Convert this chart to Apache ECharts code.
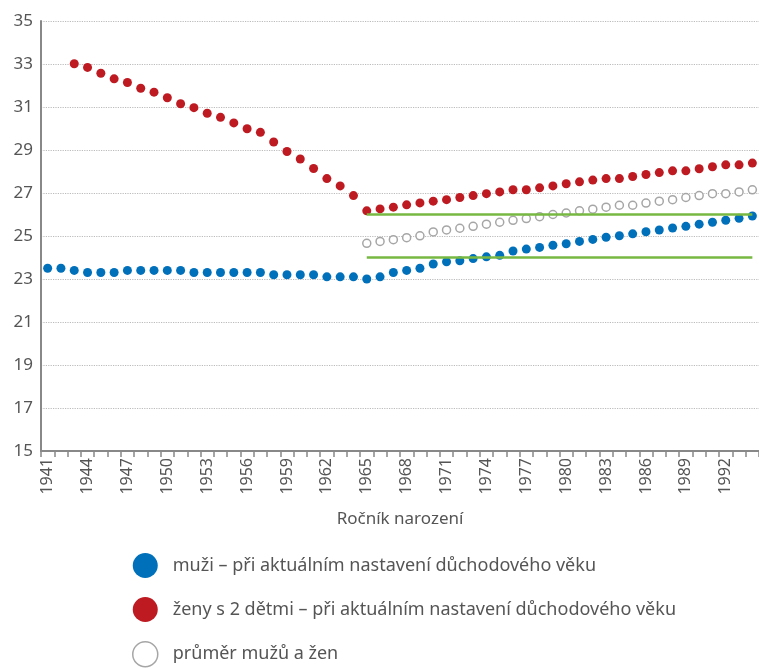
<!DOCTYPE html>
<html>
<head>
<meta charset="utf-8">
<script src="https://cdn.jsdelivr.net/npm/echarts@6/dist/echarts.min.js"></script>
<style>
  html, body { margin: 0; padding: 0; background: #fff; }
  #chart { width: 759px; height: 668px; }
</style>
</head>
<body>
<div id="chart"></div>
<script>
// ročníky narození
var years = ['1941','1942','1943','1944','1945','1946','1947','1948','1949','1950',
             '1951','1952','1953','1954','1955','1956','1957','1958','1959','1960',
             '1961','1962','1963','1964','1965','1966','1967','1968','1969','1970',
             '1971','1972','1973','1974','1975','1976','1977','1978','1979','1980',
             '1981','1982','1983','1984','1985','1986','1987','1988','1989','1990',
             '1991','1992','1993','1994'];

var muzi = [23.5, 23.5, 23.4, 23.3, 23.3, 23.3, 23.4, 23.4, 23.4, 23.4,
            23.4, 23.3, 23.3, 23.3, 23.3, 23.3, 23.3, 23.2, 23.2, 23.2,
            23.2, 23.1, 23.1, 23.1, 23.0, 23.1, 23.3, 23.4, 23.5, 23.7,
            23.8, 23.85, 23.95, 24.03, 24.1, 24.3, 24.39, 24.47, 24.57, 24.64,
            24.75, 24.84, 24.94, 25.01, 25.1, 25.2, 25.28, 25.37, 25.45, 25.55,
            25.64, 25.73, 25.82, 25.93];

var zeny = [null, null, 33.01, 32.84, 32.57, 32.31, 32.14, 31.87, 31.69, 31.43,
            31.15, 30.97, 30.71, 30.52, 30.26, 29.99, 29.82, 29.37, 28.93, 28.58,
            28.14, 27.67, 27.33, 26.88, 26.17, 26.26, 26.34, 26.45, 26.54, 26.62,
            26.69, 26.79, 26.88, 26.97, 27.05, 27.15, 27.15, 27.24, 27.33, 27.43,
            27.52, 27.6, 27.67, 27.67, 27.77, 27.86, 27.95, 28.03, 28.03, 28.13,
            28.22, 28.31, 28.31, 28.39];

var prumer = [null, null, null, null, null, null, null, null, null, null,
              null, null, null, null, null, null, null, null, null, null,
              null, null, null, null, 24.66, 24.75, 24.83, 24.92, 25.01, 25.19,
              25.28, 25.36, 25.45, 25.55, 25.64, 25.73, 25.81, 25.9, 26.0, 26.07,
              26.17, 26.25, 26.34, 26.43, 26.43, 26.53, 26.62, 26.69, 26.79, 26.88,
              26.97, 26.97, 27.05, 27.15];

// zelené hranice od ročníku 1965
var hranice = [24, 26];
var hraniceOd = '1965';
var hraniceDo = '1994';

var names = ['muži – při aktuálním nastavení důchodového věku',
             'ženy s 2 dětmi – při aktuálním nastavení důchodového věku',
             'průměr mužů a žen'];

var textColor = '#555';
var font = 'Noto Sans';

var chart = echarts.init(document.getElementById('chart'));

var markData = [];
for (var i = 0; i < hranice.length; i++) {
    markData.push([{coord: [hraniceOd, hranice[i]]}, {coord: [hraniceDo, hranice[i]]}]);
}

var option = {
    animation: false,
    textStyle: {fontFamily: font, color: textColor},
    grid: {left: 41, right: -6, top: 21, bottom: 217, containLabel: false},
    legend: {
        orient: 'vertical',
        left: 132,
        top: 553,
        height: 160,
        padding: 0,
        itemWidth: 25,
        itemHeight: 25,
        itemGap: 19,
        icon: 'circle',
        textStyle: {fontFamily: font, fontSize: 18, color: textColor, padding: [0, 0, 0, 10]},
        data: [
            {name: names[0], itemStyle: {color: '#0070bb', borderWidth: 0}},
            {name: names[1], itemStyle: {color: '#be1a22', borderWidth: 0}},
            {name: names[2], itemStyle: {color: '#fff', borderColor: '#a6a6a6', borderWidth: 1.5}}
        ]
    },
    xAxis: {
        type: 'category',
        data: years,
        boundaryGap: true,
        name: 'Ročník narození',
        nameLocation: 'middle',
        nameGap: 60,
        nameTextStyle: {fontFamily: font, fontSize: 17, color: textColor},
        axisLine: {lineStyle: {color: '#888', width: 2}},
        axisTick: {show: true, interval: 0, length: 6, lineStyle: {color: '#888', width: 1.5}},
        axisLabel: {interval: 2, rotate: 90, margin: 7, fontFamily: font, fontSize: 16, color: textColor},
        splitLine: {show: false}
    },
    yAxis: {
        type: 'value',
        min: 15,
        max: 35,
        interval: 2,
        axisLine: {show: true, lineStyle: {color: '#888', width: 2}},
        axisTick: {show: false},
        axisLabel: {margin: 8, fontFamily: font, fontSize: 17, color: textColor},
        splitLine: {lineStyle: {color: '#bbb', type: 'dotted', width: 1.2}}
    },
    series: [
        {
            name: names[0],
            type: 'scatter',
            data: muzi,
            symbol: 'circle',
            symbolSize: 9,
            itemStyle: {color: '#0070bb', opacity: 1}
        },
        {
            name: names[1],
            type: 'scatter',
            data: zeny,
            symbol: 'circle',
            symbolSize: 9,
            itemStyle: {color: '#be1a22', opacity: 1}
        },
        {
            name: names[2],
            type: 'scatter',
            data: prumer,
            symbol: 'circle',
            symbolSize: 8,
            itemStyle: {color: '#fff', borderColor: '#a6a6a6', borderWidth: 1.5, opacity: 1},
            markLine: {
                silent: true,
                symbol: 'none',
                label: {show: false},
                lineStyle: {color: '#77b843', width: 2.5, type: 'solid'},
                data: markData
            }
        }
    ]
};

chart.setOption(option);
</script>
</body>
</html>
